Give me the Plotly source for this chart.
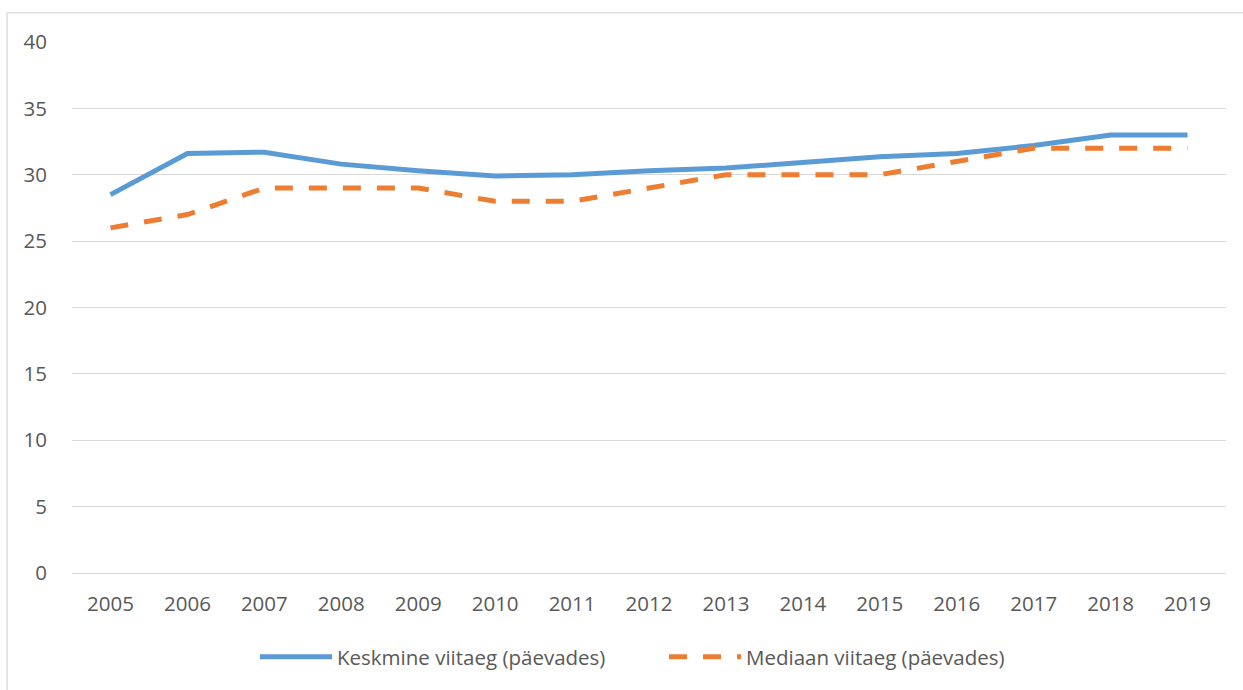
import plotly.graph_objects as go

years = ["2005", "2006", "2007", "2008", "2009", "2010", "2011", "2012",
         "2013", "2014", "2015", "2016", "2017", "2018", "2019"]
keskmine = [28.5, 31.6, 31.7, 30.8, 30.3, 29.9, 30.0, 30.3, 30.5, 30.95, 31.35, 31.6, 32.2, 33.0, 33.0]
mediaan = [26, 27, 29, 29, 29, 28, 28, 29, 30, 30, 30, 31, 32, 32, 32]

name_k = "Keskmine viitaeg (päevades)"
name_m = "Mediaan viitaeg (päevades)"

fig = go.Figure()
fig.add_trace(go.Scatter(x=years, y=keskmine, mode="lines", name=name_k,
                         line=dict(color="#5B9BD5", width=5)))
fig.add_trace(go.Scatter(x=years, y=mediaan, mode="lines", name=name_m,
                         line=dict(color="#ED7D31", width=5, dash="18px,16px")))

font_fam = "'Open Sans', sans-serif"
fs = 20.5
fig.update_layout(
    width=1243, height=690,
    margin=dict(l=72, r=17, t=42, b=117),
    paper_bgcolor="white", plot_bgcolor="white",
    font=dict(family=font_fam, size=fs, color="#595959"),
    showlegend=True,
    legend=dict(orientation="h", x=0.513, xanchor="center", y=-0.158, yanchor="middle",
                font=dict(size=fs, color="#595959"), itemwidth=72,
                entrywidth=322, entrywidthmode="pixels"),
    xaxis=dict(type="category", range=[-0.5, 14.5], showgrid=False, showline=False,
               ticks="", tickfont=dict(size=fs, color="#595959"), ticklabelstandoff=16),
    yaxis=dict(range=[0, 40], tickvals=[0, 5, 10, 15, 20, 25, 30, 35, 40],
               showgrid=True, gridcolor="#D9D9D9", gridwidth=1.3, zeroline=True,
               zerolinecolor="#D9D9D9", zerolinewidth=1.3, showline=False,
               tickfont=dict(size=fs, color="#595959"), ticklabelstandoff=24),
)
fig.add_shape(type="rect", xref="paper", yref="paper",
              x0=-65/1155, x1=1.02, y0=-0.3, y1=1 + 29/530,
              line=dict(color="#D9D9D9", width=1.3), layer="below")
fig.write_html("out.html")
